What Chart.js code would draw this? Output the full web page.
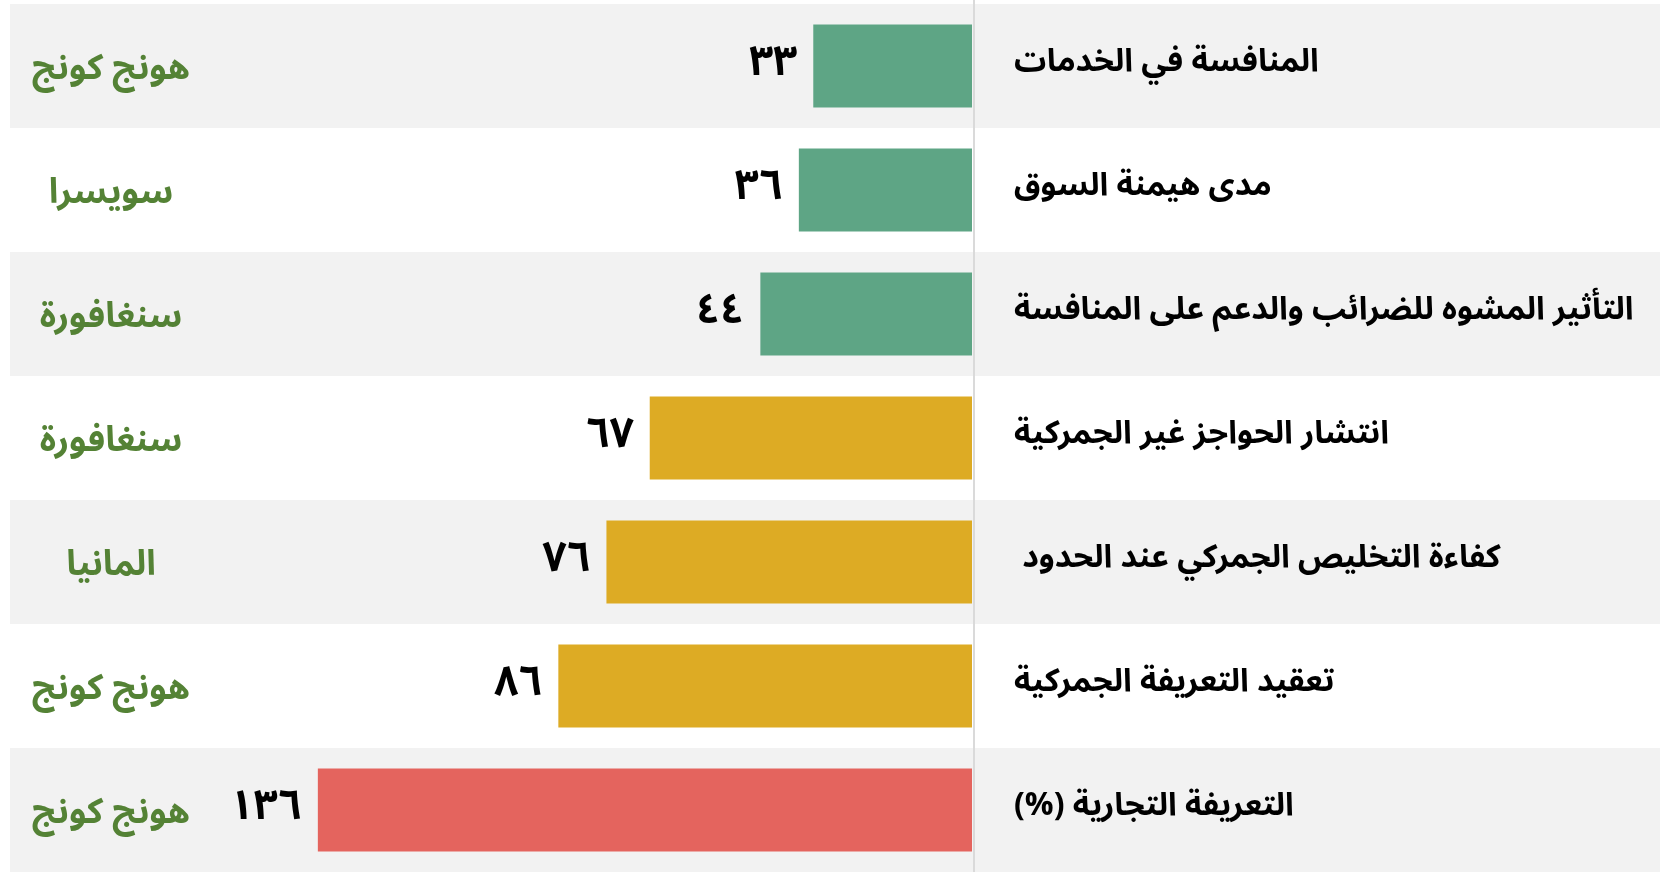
<!DOCTYPE html>
<html lang="ar">
<head>
<meta charset="utf-8">
<title>مؤشرات التجارة</title>
<script src="https://cdn.jsdelivr.net/npm/chart.js@4.4.1/dist/chart.umd.min.js"></script>
<style>
  html, body { margin: 0; padding: 0; background: #fff; }
  #wrap { width: 1660px; height: 872px; position: relative; }
</style>
</head>
<body>
<div id="wrap"><canvas id="grafico" dir="rtl"></canvas></div>
<script>
// ----------------------
// Dados
// ----------------------
const categorias = [
  'المنافسة في الخدمات',
  'مدى هيمنة السوق',
  'التأثير المشوه للضرائب والدعم على المنافسة',
  'انتشار الحواجز غير الجمركية',
  'كفاءة التخليص الجمركي عند الحدود ',
  'تعقيد التعريفة الجمركية',
  'التعريفة التجارية (%)'
];
const valores = [33, 36, 44, 67, 76, 86, 136];
const lideres = ['هونج كونج', 'سويسرا', 'سنغافورة', 'سنغافورة', 'المانيا', 'هونج كونج', 'هونج كونج'];
const cores = ['#5ea585', '#5ea585', '#5ea585', '#ddab24', '#ddab24', '#ddab24', '#e4645e'];

const FONTE = "'Noto Sans Arabic', 'DejaVu Sans', sans-serif";

// digitos arabes-indianos
const digitosAr = n => String(n).replace(/\d/g, d => '٠١٢٣٤٥٦٧٨٩'[d]);

// ----------------------
// Faixas alternadas atras das barras
// ----------------------
const faixas = {
  id: 'faixas',
  beforeDraw(chart){
    const { ctx, scales: { y } } = chart;
    const passo = (y.bottom - y.top) / categorias.length;
    ctx.save();
    ctx.fillStyle = '#f2f2f2';
    categorias.forEach((c, i) => {
      if(i % 2) return;
      const yc = y.getPixelForValue(i);
      ctx.fillRect(10, yc - passo / 2, chart.width - 10, passo);
    });
    ctx.restore();
  }
};

// ----------------------
// Valores, paises e linha do eixo
// ----------------------
const rotulos = {
  id: 'rotulos',
  afterDatasetsDraw(chart){
    const { ctx, chartArea } = chart;
    const meta = chart.getDatasetMeta(0);
    ctx.save();

    ctx.strokeStyle = '#dadada';
    ctx.lineWidth = 2;
    ctx.beginPath();
    ctx.moveTo(chartArea.right + 2, 0);
    ctx.lineTo(chartArea.right + 2, chart.height);
    ctx.stroke();

    ctx.textBaseline = 'middle';
    meta.data.forEach((barra, i) => {
      ctx.fillStyle = '#000';
      ctx.font = 'bold 42px ' + FONTE;
      ctx.textAlign = 'right';
      ctx.fillText(digitosAr(valores[i]), barra.x - 16, barra.y + 3);

      ctx.fillStyle = '#548235';
      ctx.font = 'bold 35px ' + FONTE;
      ctx.textAlign = 'center';
      ctx.fillText(lideres[i], 111, barra.y + 8);
    });
    ctx.restore();
  }
};

new Chart(document.getElementById('grafico'), {
  type: 'bar',
  data: {
    labels: categorias,
    datasets: [{
      data: valores,
      backgroundColor: cores,
      borderWidth: 0,
      categoryPercentage: 1,
      barPercentage: 0.67
    }]
  },
  options: {
    indexAxis: 'y',
    responsive: true,
    maintainAspectRatio: false,
    animation: false,
    layout: { padding: { left: 10, top: 4 } },
    plugins: { legend: { display: false }, tooltip: { enabled: false } },
    scales: {
      x: { reverse: true, min: 0, max: 200, display: false },
      y: {
        position: 'right',
        grid: { display: false, drawTicks: false },
        border: { display: false },
        ticks: {
          crossAlign: 'near',
          padding: 42,
          color: '#000',
          font: { family: FONTE, size: 32, weight: 'bold' }
        },
        // largura fixa da coluna de rotulos, sem folga em cima/embaixo
        afterFit: s => {
          s.width = 688;
          s.paddingTop = 0;
          s.paddingBottom = 0;
        }
      }
    }
  },
  plugins: [faixas, rotulos]
});
</script>
</body>
</html>
